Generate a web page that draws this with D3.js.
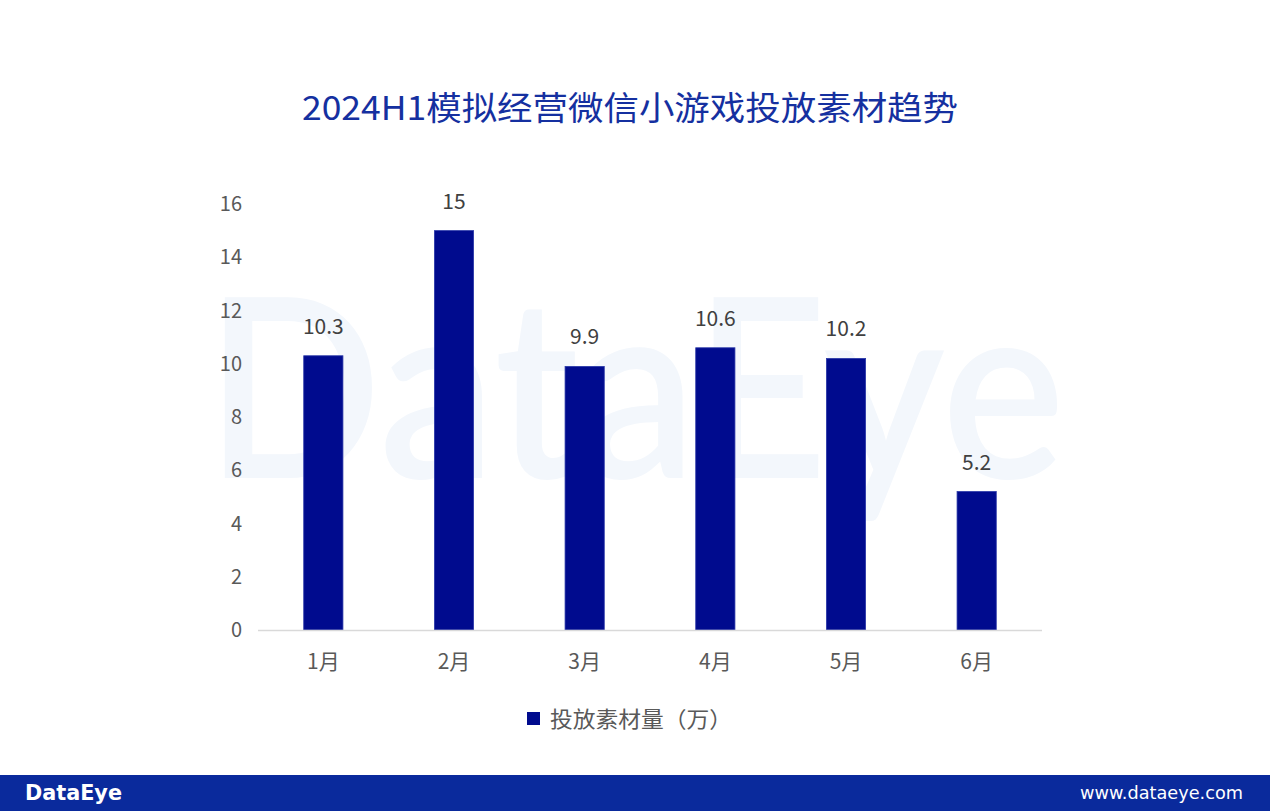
<!DOCTYPE html>
<html><head><meta charset="utf-8">
<script src="https://cdn.jsdelivr.net/npm/d3@7/dist/d3.min.js"></script>
<style>html,body{margin:0;padding:0;background:#fff;}svg{display:block;}</style>
</head><body>
<svg id="c" width="1270" height="811"></svg>
<script>
const title = "2024H1模拟经营微信小游戏投放素材趋势";
const months = ["1月","2月","3月","4月","5月","6月"];
const values = [10.3, 15, 9.9, 10.6, 10.2, 5.2];
const valueLabels = ["10.3","15","9.9","10.6","10.2","5.2"];
const yTicks = [0,2,4,6,8,10,12,14,16];
const seriesName = "投放素材量（万）";

const svg = d3.select("#c");
const font = "'Noto Sans CJK SC','Noto Sans',sans-serif";
const numFont = "'Open Sans','Noto Sans',sans-serif";

// watermark
svg.append("text").attr("x",205).attr("y",478)
  .attr("font-family","'Lato','Noto Sans',sans-serif").attr("font-weight",600)
  .attr("font-size",250).attr("fill","#f3f7fc")
  .attr("textLength",860).attr("lengthAdjust","spacingAndGlyphs")
  .text("DataEye");

svg.append("text").attr("x",302).attr("y",120)
  .attr("font-family",font).attr("font-size",33).attr("fill","#1530a0")
  .attr("textLength",656).attr("lengthAdjust","spacingAndGlyphs")
  .text(title);

const x = d3.scaleBand().domain(months).range([258,1042]).paddingInner(0.7).paddingOuter(0.35);
const y = d3.scaleLinear().domain([0,16]).range([630,204]);

svg.append("g").selectAll("text").data(yTicks).join("text")
  .attr("x",242).attr("y",d=>y(d)).attr("dy","0.35em").attr("text-anchor","end")
  .attr("font-family",font).attr("font-size",20).attr("fill","#595959").text(d=>d);

svg.append("g").selectAll("rect").data(values).join("rect")
  .attr("x",(d,i)=>x(months[i])).attr("width",x.bandwidth())
  .attr("y",d=>y(d)).attr("height",d=>y(0)-y(d))
  .attr("fill","#000b8e").attr("stroke","#2a38a8").attr("stroke-width",0.8);

svg.append("g").selectAll("text").data(values).join("text")
  .attr("x",(d,i)=>x(months[i])+x.bandwidth()/2).attr("y",d=>y(d)-22)
  .attr("text-anchor","middle").attr("font-family",font).attr("font-size",21)
  .attr("fill","#404040").text((d,i)=>valueLabels[i]);

svg.append("line").attr("x1",258).attr("x2",1042).attr("y1",630.5).attr("y2",630.5)
  .attr("stroke","#d9d9d9").attr("stroke-width",1.5);

svg.append("g").selectAll("text").data(months).join("text")
  .attr("x",d=>x(d)+x.bandwidth()/2).attr("y",662).attr("dy","0.35em")
  .attr("text-anchor","middle").attr("font-family",font).attr("font-size",21)
  .attr("fill","#595959").text(d=>d);

// legend
svg.append("rect").attr("x",527).attr("y",712).attr("width",13).attr("height",13).attr("fill","#000b8e");
svg.append("text").attr("x",550).attr("y",719).attr("dy","0.35em")
  .attr("font-family",font).attr("font-size",22).attr("fill","#595959")
  .attr("textLength",182).attr("lengthAdjust","spacingAndGlyphs").text(seriesName);

// footer
svg.append("rect").attr("x",0).attr("y",775).attr("width",1270).attr("height",36).attr("fill","#0a2a9c");
svg.append("text").attr("x",25).attr("y",793).attr("dy","0.35em")
  .attr("font-family","'DejaVu Sans',sans-serif").attr("font-weight","bold").attr("font-size",21)
  .attr("fill","#fff").attr("textLength",97).attr("lengthAdjust","spacingAndGlyphs").text("DataEye");
svg.append("text").attr("x",1243).attr("y",793).attr("dy","0.35em").attr("text-anchor","end")
  .attr("font-family","'DejaVu Sans',sans-serif").attr("font-size",17)
  .attr("fill","#fff").attr("textLength",163).attr("lengthAdjust","spacingAndGlyphs").text("www.dataeye.com");
</script>
</body></html>
